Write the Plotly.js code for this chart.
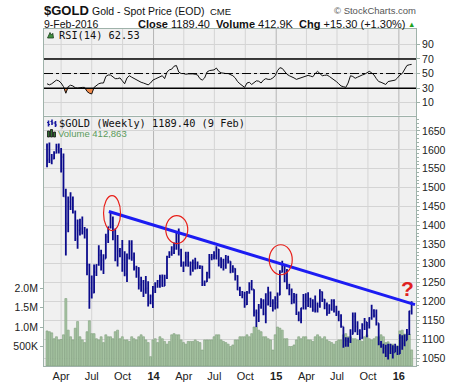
<!DOCTYPE html>
<html><head><meta charset="utf-8">
<script src="https://cdn.plot.ly/plotly-3.0.1.min.js"></script>
<style>html,body{margin:0;padding:0;background:#fff;}#chart{width:460px;height:383px;}</style>
</head><body><div id="chart"></div>
<script>
// ---------- DATA ----------
const dates = [
'2013-02-18','2013-02-25','2013-03-04','2013-03-11','2013-03-18','2013-03-25','2013-04-01','2013-04-08','2013-04-15','2013-04-22',
'2013-04-29','2013-05-06','2013-05-13','2013-05-20','2013-05-27','2013-06-03','2013-06-10','2013-06-17','2013-06-24','2013-07-01',
'2013-07-08','2013-07-15','2013-07-22','2013-07-29','2013-08-05','2013-08-12','2013-08-19','2013-08-26','2013-09-02','2013-09-09',
'2013-09-16','2013-09-23','2013-09-30','2013-10-07','2013-10-14','2013-10-21','2013-10-28','2013-11-04','2013-11-11','2013-11-18',
'2013-11-25','2013-12-02','2013-12-09','2013-12-16','2013-12-23','2013-12-30','2014-01-06','2014-01-13','2014-01-20','2014-01-27',
'2014-02-03','2014-02-10','2014-02-17','2014-02-24','2014-03-03','2014-03-10','2014-03-17','2014-03-24','2014-03-31','2014-04-07',
'2014-04-14','2014-04-21','2014-04-28','2014-05-05','2014-05-12','2014-05-19','2014-05-26','2014-06-02','2014-06-09','2014-06-16',
'2014-06-23','2014-06-30','2014-07-07','2014-07-14','2014-07-21','2014-07-28','2014-08-04','2014-08-11','2014-08-18','2014-08-25',
'2014-09-01','2014-09-08','2014-09-15','2014-09-22','2014-09-29','2014-10-06','2014-10-13','2014-10-20','2014-10-27','2014-11-03',
'2014-11-10','2014-11-17','2014-11-24','2014-12-01','2014-12-08','2014-12-15','2014-12-22','2014-12-29','2015-01-05','2015-01-12',
'2015-01-19','2015-01-26','2015-02-02','2015-02-09','2015-02-16','2015-02-23','2015-03-02','2015-03-09','2015-03-16','2015-03-23',
'2015-03-30','2015-04-06','2015-04-13','2015-04-20','2015-04-27','2015-05-04','2015-05-11','2015-05-18','2015-05-25','2015-06-01',
'2015-06-08','2015-06-15','2015-06-22','2015-06-29','2015-07-06','2015-07-13','2015-07-20','2015-07-27','2015-08-03','2015-08-10',
'2015-08-17','2015-08-24','2015-08-31','2015-09-07','2015-09-14','2015-09-21','2015-09-28','2015-10-05','2015-10-12','2015-10-19',
'2015-10-26','2015-11-02','2015-11-09','2015-11-16','2015-11-23','2015-11-30','2015-12-07','2015-12-14','2015-12-21','2015-12-28',
'2016-01-04','2016-01-11','2016-01-18','2016-01-25','2016-02-01','2016-02-08'];

const open = [
1609,1575,1572,1577,1592,1608,1596,1581,1477,1405,
1462,1470,1435,1365,1387,1392,1383,1387,1297,1234,
1223,1277,1296,1322,1310,1313,1370,1396,1396,1387,
1308,1333,1337,1310,1272,1315,1352,1315,1287,1288,
1244,1250,1231,1234,1196,1213,1238,1247,1254,1264,
1240,1262,1318,1323,1327,1339,1379,1334,1294,1302,
1318,1294,1301,1301,1287,1293,1292,1245,1252,1274,
1315,1316,1320,1337,1310,1305,1294,1310,1305,1281,
1286,1267,1231,1216,1217,1192,1222,1238,1231,1171,
1169,1185,1201,1167,1192,1222,1196,1195,1186,1217,
1277,1294,1279,1234,1228,1204,1212,1166,1152,1182,
1199,1201,1205,1203,1178,1176,1188,1225,1205,1190,
1169,1180,1201,1173,1167,1162,1133,1097,1095,1095,
1113,1160,1133,1121,1103,1137,1145,1137,1156,1176,
1162,1142,1088,1081,1076,1056,1085,1075,1065,1077,
1061,1104,1089,1097,1118,1174];

const high = [
1617,1619,1589,1596,1616,1617,1605,1590,1497,1477,
1488,1477,1440,1416,1418,1424,1396,1392,1299,1268,
1297,1298,1348,1336,1324,1378,1397,1434,1424,1392,
1375,1341,1362,1332,1326,1361,1361,1329,1294,1290,
1265,1256,1267,1253,1218,1240,1250,1256,1270,1271,
1270,1320,1332,1345,1355,1385,1392,1339,1305,1331,
1331,1305,1310,1315,1305,1295,1294,1255,1278,1325,
1325,1332,1345,1338,1316,1312,1322,1320,1306,1295,
1287,1269,1238,1227,1225,1227,1250,1256,1232,1178,
1193,1208,1205,1221,1238,1226,1205,1213,1223,1282,
1307,1296,1285,1246,1234,1222,1220,1173,1183,1219,
1221,1224,1209,1205,1215,1197,1232,1226,1206,1197,
1192,1205,1205,1188,1175,1166,1133,1105,1104,1126,
1170,1170,1147,1126,1142,1156,1145,1158,1191,1179,
1178,1142,1095,1088,1085,1088,1088,1084,1088,1082,
1113,1110,1112,1127,1175,1200];

const low = [
1554,1565,1562,1575,1590,1590,1540,1476,1321,1382,
1441,1432,1359,1339,1374,1376,1366,1269,1180,1207,
1221,1267,1294,1281,1272,1313,1354,1392,1361,1306,
1292,1316,1278,1266,1251,1310,1307,1281,1262,1231,
1225,1211,1220,1186,1192,1182,1222,1236,1236,1238,
1240,1259,1314,1320,1325,1336,1321,1291,1277,1292,
1291,1268,1278,1284,1286,1285,1240,1240,1251,1260,
1308,1310,1310,1292,1287,1281,1286,1300,1274,1275,
1255,1229,1214,1208,1183,1190,1220,1229,1160,1132,
1145,1180,1163,1142,1189,1185,1173,1178,1181,1216,
1276,1250,1232,1216,1192,1194,1164,1147,1142,1178,
1178,1185,1183,1172,1170,1170,1183,1198,1179,1162,
1167,1175,1170,1161,1147,1130,1077,1080,1080,1090,
1112,1118,1111,1098,1101,1124,1105,1128,1151,1157,
1136,1084,1077,1062,1053,1046,1061,1049,1065,1058,
1061,1072,1081,1097,1111,1165];

const close = [
1572,1572,1578,1592,1608,1596,1581,1477,1405,1462,
1470,1435,1365,1387,1392,1383,1387,1297,1234,1223,
1277,1296,1322,1310,1313,1370,1396,1396,1387,1308,
1333,1337,1310,1272,1315,1352,1315,1287,1288,1244,
1250,1231,1234,1196,1213,1238,1247,1254,1264,1240,
1262,1318,1323,1327,1339,1379,1334,1294,1302,1318,
1294,1301,1301,1287,1293,1292,1245,1252,1274,1315,
1316,1320,1337,1310,1305,1294,1310,1305,1281,1286,
1267,1231,1216,1217,1192,1222,1238,1231,1171,1169,
1185,1201,1167,1192,1222,1196,1195,1186,1217,1277,
1294,1279,1234,1228,1204,1212,1166,1152,1182,1199,
1201,1205,1203,1178,1176,1188,1225,1205,1190,1169,
1180,1201,1173,1167,1162,1133,1097,1095,1095,1113,
1160,1133,1121,1103,1137,1145,1137,1156,1176,1162,
1142,1088,1081,1076,1056,1085,1075,1065,1077,1061,
1104,1089,1097,1118,1174,1189.4];

// weekly volume, thousands
const volumeK = [
900,880,850,700,750,670,680,800,1730,920,
750,670,970,1140,750,670,600,880,1160,830,
830,700,670,750,600,800,750,750,700,880,
920,700,750,670,670,630,750,700,670,750,
800,750,670,600,240,670,700,600,750,700,
630,560,630,800,830,800,800,670,600,560,
630,630,630,670,630,600,410,670,670,670,
670,750,800,800,670,630,600,560,500,540,
670,670,750,750,750,800,750,830,1000,1000,
920,880,750,750,700,670,410,800,1000,970,
920,700,700,500,500,540,670,750,700,750,
750,670,670,630,750,800,750,700,750,670,
630,600,560,630,670,670,800,830,750,750,
700,700,670,670,630,750,800,700,670,700,
750,750,800,750,600,620,560,560,500,520,
900,920,820,800,820,413];

const rsi = [
36,34.5,36,38,41,40,37,32,23,32,
34,33,30.5,30,31,31,31,25.5,23,22,
31,34,36,37,37,46,48,48,45,43,
43,44,40,36,44,47,45,43,41,39.5,
38,37,35.5,34.5,37,41,42.5,44,46,47,
43,52,55,56,60,61,52,50,50,49,
49.5,50,49.5,49,48,43,41,44,52,54,
54,55,57.5,53,51,50,50,50,49,47,
44,39,36,33,31,37,38,35,38,40,
39.5,37,41,43,42,42,44,47,54,58,
57,53,49,47,46,44,42,43,45,46,
47,47.5,46.5,45.5,50,53,50,47,47.5,48,
46,44,42,39,36,33,32,31,37,47,
46,43.5,45,47,48,49,51,53,51,48,
43,39,38,37,35,39,40,40,41,44,
48,50,55,61,62,62.53];

const xTickVals = ['2013-04-01','2013-07-01','2013-10-01','2014-01-01','2014-04-01','2014-07-01','2014-10-01','2015-01-01','2015-04-01','2015-07-01','2015-10-01','2016-01-01'];
const xTickText = ['Apr','Jul','Oct','<b>14</b>','Apr','Jul','Oct','<b>15</b>','Apr','Jul','Oct','<b>16</b>'];
const priceTicks = [1050,1100,1150,1200,1250,1300,1350,1400,1450,1500,1550,1600,1650];
const volTickVals = [500,1000,1500,2000];
const volTickText = ['500K','1.0M','1.5M','2.0M'];
const rsiTicks = [10,30,50,70,90];
const rsiLevels = [30,70];
const rsiMid = 50;
const trendDates = ['2013-08-21','2016-02-18'];
const trendValues = [1437,1191];
const circledIdx = [27,56,100];

// ---------- LAYOUT HELPERS ----------
const L=44, R=416, T=29, B=366;
const px = x => (x-L)/(R-L);
const py = y => (B-y)/(B-T);
const FONT = 'Liberation Sans, Arial, sans-serif';
const MONO = 'DejaVu Sans Mono, monospace';
const BORDER = '#9fb2aa';
const GRID = '#d4d4d4';
const RSI_DOM = [py(115.5), 1];
const MAIN_DOM = [0, py(116.5)];

const rsiFloor = dates.map(() => rsiLevels[0]);
const rsiClipped = rsi.map(v => Math.min(v, rsiLevels[0]));

const traces = [
  {x:dates, y:rsiFloor, xaxis:'x', yaxis:'y', mode:'lines', line:{width:0}, hoverinfo:'skip'},
  {x:dates, y:rsiClipped, xaxis:'x', yaxis:'y', mode:'lines', line:{width:0}, fill:'tonexty', fillcolor:'#f08a4b', hoverinfo:'skip'},
  {x:dates, y:rsi, xaxis:'x', yaxis:'y', mode:'lines', line:{color:'#111', width:1}},
  {type:'bar', x:dates, y:volumeK, xaxis:'x', yaxis:'y2',
   marker:{color:'#a7c4a3', line:{color:'#7e9e7b', width:0.6}}},
  {type:'ohlc', x:dates, open:open, high:high, low:low, close:close, xaxis:'x', yaxis:'y3',
   tickwidth:0.4,
   increasing:{line:{color:'#0b0b8c', width:1.8}}, decreasing:{line:{color:'#0b0b8c', width:1.8}}},
  {x:trendDates, y:trendValues, xaxis:'x', yaxis:'y3', mode:'lines', line:{color:'#1c1cf2', width:3}}
];

const shapes = [];
// vertical grid lines (darker at year starts), drawn in both panels
xTickVals.forEach((d,k) => {
  const c = xTickText[k].indexOf('<b>') === 0 ? '#b4b4b4' : GRID;
  [RSI_DOM, MAIN_DOM].forEach(dom => shapes.push({type:'line', layer:'below', xref:'x', x0:d, x1:d,
    yref:'paper', y0:dom[0], y1:dom[1], line:{color:c, width:1}}));
});
rsiLevels.forEach(v => shapes.push({type:'line', xref:'paper', x0:0, x1:1, yref:'y', y0:v, y1:v, line:{color:'#000', width:1.5}}));
shapes.push({type:'line', xref:'paper', x0:0, x1:1, yref:'y', y0:rsiMid, y1:rsiMid, line:{color:'#000', width:1, dash:'dashdot'}});
// ellipses around the circled highs (pixel-sized, anchored at the bar's high)
const ellipseBox = [[-7,10,-18,17],[-13,9,-15,13],[-13,10,-14,16]];
circledIdx.forEach((i,k) => {
  const b = ellipseBox[k];
  shapes.push({type:'circle', xref:'x', yref:'y3', xsizemode:'pixel', ysizemode:'pixel',
    xanchor:dates[i], yanchor:high[i], x0:b[0], x1:b[1], y0:b[2], y1:b[3],
    line:{color:'#e8201a', width:1.2}});
});
// legend icons
function pline(x0,y0,x1,y1,c,w){shapes.push({type:'line',xref:'paper',yref:'paper',x0:px(x0),y0:py(y0),x1:px(x1),y1:py(y1),line:{color:c,width:w}});}
function prect(x0,y0,x1,y1,f,c){shapes.push({type:'rect',xref:'paper',yref:'paper',x0:px(x0),y0:py(y0),x1:px(x1),y1:py(y1),fillcolor:f,line:{color:c,width:0.8}});}
shapes.push({type:'path', xref:'paper', yref:'paper',
  path:`M ${px(47.5)},${py(38)} L ${px(50)},${py(32.5)} L ${px(51.5)},${py(35)} L ${px(52.8)},${py(33.3)} L ${px(53.5)},${py(38)} Z`,
  fillcolor:'#3f8f3f', line:{color:'#1d3d1d', width:0.8}});
[[48.5,120.5,126.5],[52,119.5,125],[55.5,121,127]].forEach(a => {
  pline(a[0],a[1],a[0],a[2],'#1a1aa0',1.6);
  pline(a[0]-1.5,a[1]+2,a[0],a[1]+2,'#1a1aa0',1);
  pline(a[0],a[2]-2,a[0]+1.5,a[2]-2,'#1a1aa0',1);
});
prect(47.5,131,49.5,137,'#2f6f2f','#111');
prect(50.5,129.5,52.5,137,'#2f6f2f','#111');
prect(53.5,132,55.5,137,'#2f6f2f','#111');

function ann(text,x,y,size,opt){
  return Object.assign({text:text, xref:'paper', yref:'paper', x:px(x), y:py(y), showarrow:false,
    xanchor:'left', yanchor:'middle', font:{family:FONT, size:size, color:'#111'}}, opt||{});
}
const annotations = [
  ann('<b>$GOLD</b>', 42, 10.5, 13),
  ann('Gold - Spot Price (EOD)', 90, 11, 10.5),
  ann('CME', 208, 11.5, 9.5),
  ann('© StockCharts.com', 418, 11, 9.5, {xanchor:'right', font:{family:FONT, size:9.5, color:'#555'}}),
  ann('9-Feb-2016', 42, 24, 10.5),
  ann('<b>Close</b> 1189.40  <b>Volume</b> 412.9K  <b>Chg</b> +15.30 (+1.30%)', 407, 24, 11, {xanchor:'right'}),
  ann('▲', 411, 24, 7.5, {xanchor:'center', font:{family:FONT, size:7.5, color:'#1fa31f'}}),
  ann('RSI(14) 62.53', 57, 35, 10.3, {font:{family:MONO, size:10.3, color:'#111'}}),
  ann('$GOLD (Weekly) 1189.40 (9 Feb)', 57, 123.5, 10.3, {font:{family:MONO, size:10.3, color:'#111'}}),
  ann('Volume 412,863', 56, 133.5, 9.5, {font:{family:FONT, size:9.5, color:'#5a9a5a'}}),
  ann('<b>?</b>', 407, 288, 21, {xanchor:'center', font:{family:FONT, size:21, color:'#e02020'}})
];

const tickfont = {family:FONT, size:10.5, color:'#222'};
const layout = {
  width:460, height:383,
  margin:{l:L, r:460-R, t:T, b:383-B, pad:0},
  paper_bgcolor:'#ffffff', plot_bgcolor:'#f0f0f0',
  showlegend:false, hovermode:false, bargap:0.15,
  xaxis:{type:'date', range:['2013-02-09','2016-02-21'], domain:[0,1], anchor:'y2',
    tickmode:'array', tickvals:xTickVals, ticktext:xTickText, ticks:'', tickfont:{family:FONT, size:11, color:'#222'},
    showgrid:false, showline:true, linecolor:BORDER, linewidth:1, mirror:'all',
    zeroline:false, rangeslider:{visible:false}, fixedrange:true},
  yaxis:{domain:RSI_DOM, range:[-7.5,111], side:'right', anchor:'x',
    tickmode:'array', tickvals:rsiTicks, ticks:'outside', ticklen:3, tickcolor:BORDER, tickfont:tickfont,
    showgrid:true, gridcolor:GRID, showline:true, linecolor:BORDER, mirror:true, zeroline:false, fixedrange:true},
  yaxis2:{domain:MAIN_DOM, range:[0,6400], side:'left', anchor:'x',
    tickmode:'array', tickvals:volTickVals, ticktext:volTickText, ticks:'outside', ticklen:3, tickcolor:BORDER, tickfont:tickfont,
    showgrid:false, showline:true, linecolor:BORDER, mirror:true, zeroline:false, fixedrange:true},
  yaxis3:{overlaying:'y2', side:'right', anchor:'x', range:[1029,1688],
    tickmode:'array', tickvals:priceTicks, ticks:'outside', ticklen:3, tickcolor:BORDER, tickfont:tickfont,
    minor:{tickmode:'linear', tick0:1030, dtick:10, ticks:'outside', ticklen:2, tickcolor:BORDER, showgrid:false},
    showgrid:true, gridcolor:GRID, showline:false, zeroline:false, fixedrange:true},
  shapes:shapes,
  annotations:annotations
};

Plotly.newPlot('chart', traces, layout, {staticPlot:true, displayModeBar:false});
</script>
</body></html>
